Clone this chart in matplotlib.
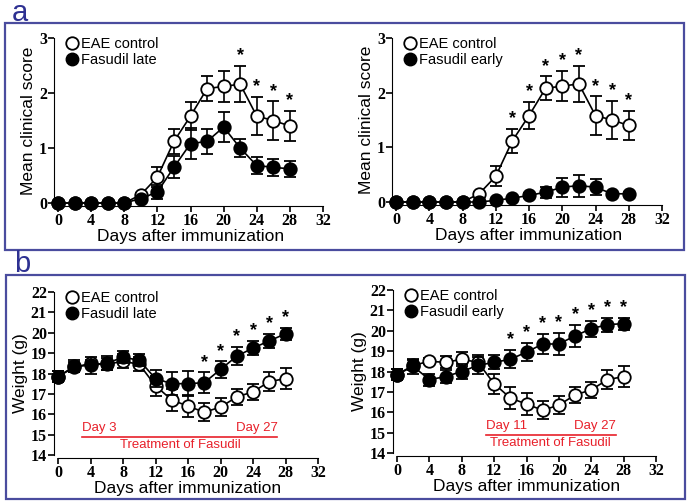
import numpy as np
import matplotlib.pyplot as plt
from matplotlib.patches import Rectangle
from matplotlib.lines import Line2D
from matplotlib.font_manager import FontProperties

W, H = 689, 504

days = [0, 2, 4, 6, 8, 10, 12, 14, 16, 18, 20, 22, 24, 26, 28]

# clinical score
eae_score = [0, 0, 0, 0, 0, 0.15, 0.47, 1.12, 1.58, 2.08, 2.12, 2.16, 1.58, 1.50, 1.40]
eae_score_err = [0, 0, 0, 0, 0, 0.03, 0.18, 0.22, 0.25, 0.22, 0.28, 0.33, 0.35, 0.35, 0.27]
late_score = [0, 0, 0, 0, 0, 0.08, 0.20, 0.65, 1.08, 1.12, 1.38, 1.00, 0.68, 0.65, 0.62]
late_score_err = [0, 0, 0, 0, 0, 0.03, 0.12, 0.20, 0.28, 0.22, 0.27, 0.17, 0.15, 0.15, 0.15]
early_score = [0, 0, 0, 0, 0, 0, 0.03, 0.07, 0.12, 0.18, 0.27, 0.30, 0.27, 0.15, 0.15]
early_score_err = [0, 0, 0, 0, 0, 0, 0.02, 0.03, 0.05, 0.10, 0.17, 0.20, 0.15, 0.03, 0.03]

# weight (g)
eae_w = [17.85, 18.30, 18.50, 18.45, 18.60, 18.45, 17.40, 16.70, 16.40, 16.10, 16.35, 16.85, 17.10, 17.60, 17.75]
eae_w_err = [0.25, 0.25, 0.15, 0.30, 0.35, 0.35, 0.50, 0.55, 0.55, 0.45, 0.45, 0.40, 0.40, 0.45, 0.50]
late_w = [17.85, 18.35, 18.40, 18.50, 18.80, 18.65, 17.75, 17.50, 17.50, 17.55, 18.20, 18.85, 19.25, 19.60, 19.95]
late_w_err = [0.25, 0.30, 0.40, 0.35, 0.30, 0.30, 0.40, 0.55, 0.60, 0.50, 0.40, 0.45, 0.35, 0.35, 0.30]
early_w = [17.85, 18.25, 17.60, 17.75, 18.00, 18.30, 18.45, 18.60, 18.95, 19.35, 19.35, 19.75, 20.10, 20.30, 20.35]
early_w_err = [0.25, 0.35, 0.30, 0.30, 0.35, 0.40, 0.35, 0.45, 0.45, 0.50, 0.55, 0.55, 0.40, 0.35, 0.30]

stars_a_late = [22, 24, 26, 28]
stars_a_early = [14, 16, 18, 20, 22, 24, 26, 28]
stars_b_late = [18, 20, 22, 24, 26, 28]
stars_b_early = [14, 16, 18, 20, 22, 24, 26, 28]

x_ticks = list(range(0, 33, 4))

FRAME = '#4A4C9E'
RED = '#E8202A'
SANS = 'Liberation Sans'
SERIF = ['Liberation Serif', 'DejaVu Serif']

fig = plt.figure(figsize=(W / 100, H / 100), dpi=100)


def px_axes(x0, x1, ytop, ybot):
    return fig.add_axes([x0 / W, 1 - ybot / H, (x1 - x0) / W, (ybot - ytop) / H])


def draw_panel(ax, y1, e1, y2, e2, label2, stars, ylim, yticks, ylabel, star_src):
    kw = dict(color='black', lw=1.2, capsize=4, elinewidth=1.2, capthick=1.2,
              markersize=9, markeredgewidth=1.3, clip_on=False)
    ax.errorbar(days, y1, yerr=e1, fmt='-o', markerfacecolor='white',
                markeredgecolor='black', zorder=3, **kw)
    ax.errorbar(days, y2, yerr=e2, fmt='-o', markerfacecolor='black',
                markeredgecolor='black', zorder=4, **kw)
    ys, es = star_src
    span = ylim[1] - ylim[0]
    for d in stars:
        i = days.index(d)
        ax.text(d, ys[i] + es[i] + 0.01 * span, '*', ha='center', va='bottom',
                fontsize=13, fontweight='bold', family=SANS)
    ax.set_xlim(0, 32)
    ax.set_ylim(*ylim)
    ax.set_xticks(x_ticks)
    ax.set_yticks(yticks)
    for s in ('top', 'right'):
        ax.spines[s].set_visible(False)
    ax.spines['left'].set_position(('outward', 3))
    ax.spines['bottom'].set_position(('outward', 2))
    ax.tick_params(direction='out', length=4, width=1.2, pad=1, labelsize=11.5,
                   labelfontfamily='serif')
    ax.set_xlabel('Days after immunization', family=SANS, fontsize=12.5, labelpad=0)
    ax.set_ylabel(ylabel, family=SANS, fontsize=12.5, labelpad=2)
    handles = [
        Line2D([], [], ls='none', marker='o', markersize=9, markerfacecolor='white',
               markeredgecolor='black', markeredgewidth=1.3),
        Line2D([], [], ls='none', marker='o', markersize=9, markerfacecolor='black',
               markeredgecolor='black'),
    ]
    ax.legend(handles, ['EAE control', label2], loc='upper left',
              bbox_to_anchor=(0.0, 1.06), frameon=False,
              prop={'family': SANS, 'size': 10.5}, handlelength=0.7,
              handletextpad=0.3, borderaxespad=0.2, labelspacing=0.15)


def treatment(ax, start, end):
    ax.plot([start, end], [14.9, 14.9], color=RED, lw=1.2)
    ax.text(start, 15.05, 'Day %d' % start, color=RED, fontsize=9.5,
            family=SANS, ha='left', va='bottom')
    ax.text(end, 15.05, 'Day %d' % end, color=RED, fontsize=9.5,
            family=SANS, ha='right', va='bottom')
    ax.text((start + end) / 2, 14.8, 'Treatment of Fasudil', color=RED,
            fontsize=9.5, family=SANS, ha='center', va='top')


plt.rcParams['font.serif'] = SERIF
plt.rcParams['font.weight'] = 'normal'

ax1 = px_axes(58, 323, 38, 203)
draw_panel(ax1, eae_score, eae_score_err, late_score, late_score_err,
           'Fasudil late', stars_a_late, (0, 3), [0, 1, 2, 3],
           'Mean clinical score', (eae_score, eae_score_err))

ax2 = px_axes(396, 662, 38, 202)
draw_panel(ax2, eae_score, eae_score_err, early_score, early_score_err,
           'Fasudil early', stars_a_early, (0, 3), [0, 1, 2, 3],
           'Mean clinical score', (eae_score, eae_score_err))

ax3 = px_axes(58, 318, 292, 455)
draw_panel(ax3, eae_w, eae_w_err, late_w, late_w_err,
           'Fasudil late', stars_b_late, (14, 22), list(range(14, 23)),
           'Weight (g)', (late_w, late_w_err))
treatment(ax3, 3, 27)

ax4 = px_axes(397, 656, 290, 453)
draw_panel(ax4, eae_w, eae_w_err, early_w, early_w_err,
           'Fasudil early', stars_b_early, (14, 22), list(range(14, 23)),
           'Weight (g)', (early_w, early_w_err))
treatment(ax4, 11, 27)

# bold serif tick labels
for ax in (ax1, ax2, ax3, ax4):
    for lab in ax.get_xticklabels() + ax.get_yticklabels():
        lab.set_fontfamily(SERIF)
        lab.set_fontweight('bold')

# panel frames and letters
for (x0, y0, x1, y1) in [(5, 23, 684, 250), (6, 275, 685, 499)]:
    fig.patches.append(Rectangle((x0 / W, 1 - y1 / H), (x1 - x0) / W, (y1 - y0) / H,
                                 transform=fig.transFigure, fill=False,
                                 edgecolor=FRAME, lw=1.6))
fig.text(12 / W, 1 - 21 / H, 'a', family=SANS, fontsize=21, color='#2E3192',
         ha='left', va='baseline')
fig.text(14 / W, 1 - 272 / H, 'b', family=SANS, fontsize=21, color='#2E3192',
         ha='left', va='baseline')

fig.savefig('out.png', dpi=100)
